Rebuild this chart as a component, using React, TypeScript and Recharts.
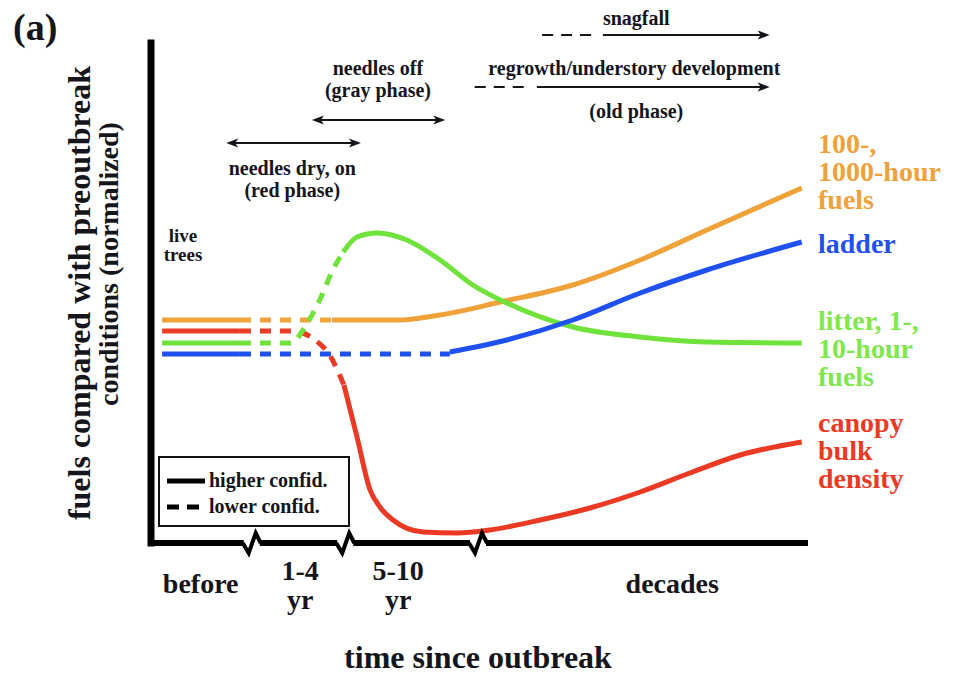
import React from "react";
import { LineChart, Line, XAxis, YAxis, ReferenceDot, ReferenceLine } from "recharts";

const FONT = "'Liberation Serif', 'Times New Roman', serif";
const INK = "#15151c";
const ORANGE = "#f0a23a";
const RED = "#ea3a24";
const GREEN = "#6fe23c";
const BLUE = "#1f50f0";
const GREEN_TEXT = "#7ee84c";

// x: 0 = start of plot, 100 = right end ("decades"); y: normalized fuel amount 0-100
const orangeBefore = [[1.7, 44.6], [13.6, 44.6]];
const orangeUncertain = [[13.6, 44.6], [27.7, 44.6]];
const orangeAfter = [[27.7, 44.6], [38.1, 44.6], [44.2, 45.6], [53.4, 48.2], [64.5, 51.6], [74.8, 56.6], [85, 62.6], [99.5, 71]];

const redBefore = [[1.7, 42.4], [13.6, 42.4]];
const redUncertain = [[13.6, 42.4], [21.6, 42.4], [25.1, 40.6], [27.4, 37.4], [29.5, 31.6]];
const redAfter = [[29.5, 31.6], [31.5, 21.2], [33.5, 10.6], [35, 7.2], [37, 4.6], [41.6, 2.2], [46.8, 2], [51.8, 2.6], [59.5, 4.6], [67.1, 7], [74.8, 10.2], [82.4, 14], [90.1, 17.6], [99.5, 20.2]];

const greenBefore = [[1.7, 40], [13.6, 40]];
const greenUncertain = [[13.6, 40], [21.3, 40], [23.9, 44], [25.8, 48.6], [27.8, 54.6], [29.4, 58.2]];
const greenAfter = [[29.4, 58.2], [31.5, 61.2], [34.6, 62], [39.1, 60.6], [44.2, 56.6], [49.2, 51.6], [54.4, 48], [64.5, 43.2], [74.8, 41.2], [85, 40.2], [99.5, 40]];

const blueBefore = [[1.7, 37.8], [13.6, 37.8]];
const blueUncertain = [[13.6, 37.8], [45.7, 37.8]];
const blueAfter = [[45.7, 38.2], [54.4, 40.6], [64.5, 44.6], [74.8, 50], [85, 54.6], [99.5, 60.2]];

const tickValues = [7.6, 22.8, 37.8, 79.7];
const tickLabels = [["before"], ["1-4", "yr"], ["5-10", "yr"], ["decades"]];
const axisBreaks = [15.4, 29.7, 50];

// phase spans along the time axis (dashed part = uncertain start)
const phaseSpans = [
  { dashedFrom: null, from: 11.5, to: 32.1, y: 80, both: true },
  { dashedFrom: null, from: 24.6, to: 45, y: 84.6, both: true },
  { dashedFrom: 49.5, from: 59, to: 94.6, y: 91.2, both: false },
  { dashedFrom: 59.8, from: 69.1, to: 94.6, y: 101.6, both: false },
];

const phaseNotes = [
  { x: 21.6, y: 73.6, lines: ["needles dry, on", "(red phase)"] },
  { x: 34.7, y: 93.6, lines: ["needles off", "(gray phase)"] },
  { x: 73.9, y: 93.6, lines: ["regrowth/understory development"] },
  { x: 74.2, y: 103.6, lines: ["snagfall"] },
  { x: 74.2, y: 85, lines: ["(old phase)"] },
];

const seriesLabels = [
  { y: 78, color: ORANGE, lines: ["100-,", "1000-hour", "fuels"] },
  { y: 58, color: BLUE, lines: ["ladder"] },
  { y: 42.6, color: GREEN_TEXT, lines: ["litter, 1-,", "10-hour", "fuels"] },
  { y: 22.2, color: RED, lines: ["canopy", "bulk", "density"] },
];

const pts = (a: number[][]) => a.map(([x, y]) => ({ x, y }));

const segments = [
  { c: ORANGE, parts: [orangeBefore, orangeUncertain, orangeAfter] },
  { c: RED, parts: [redBefore, redUncertain, redAfter] },
  { c: GREEN, parts: [greenBefore, greenUncertain, greenAfter] },
  { c: BLUE, parts: [blueBefore, blueUncertain, blueAfter] },
];

const bold = { fontFamily: FONT, fontWeight: 700 as const };

function TimeTick(p: any) {
  const i = tickValues.indexOf(p.payload.value);
  const lines = tickLabels[i] ?? [];
  const y0 = lines.length > 1 ? 37 : 50;
  return (
    <text x={p.x} y={p.y + y0} textAnchor="middle" fontSize={28} fill={INK} {...bold}>
      {lines.map((l, k) => (
        <tspan key={k} x={p.x} dy={k === 0 ? 0 : 29}>{l}</tspan>
      ))}
    </text>
  );
}

function arrowShape(both: boolean, dashed: boolean) {
  return (p: any) => {
    const { x1, y1, x2, y2 } = p;
    if (dashed) {
      return <line x1={x1} y1={y1} x2={x2} y2={y2} stroke={INK} strokeWidth={2} strokeDasharray="11 8" />;
    }
    const h = 12;
    return (
      <g>
        <line x1={both ? x1 + 4 : x1} y1={y1} x2={x2 - 4} y2={y2} stroke={INK} strokeWidth={2} />
        <polygon points={`${x2},${y2} ${x2 - h},${y2 - 4.5} ${x2 - h + 3},${y2} ${x2 - h},${y2 + 4.5}`} fill={INK} />
        {both && (
          <polygon points={`${x1},${y1} ${x1 + h},${y1 - 4.5} ${x1 + h - 3},${y1} ${x1 + h},${y1 + 4.5}`} fill={INK} />
        )}
      </g>
    );
  };
}

export default function App() {
  return (
    <div style={{ position: "absolute", left: 0, top: 0, width: 960, height: 676, background: "#fff" }}>
      <LineChart width={960} height={676} margin={{ top: 43, right: 155, bottom: 0, left: 0 }}>
        <XAxis
          type="number"
          dataKey="x"
          domain={[0, 100]}
          ticks={tickValues}
          interval={0}
          tick={<TimeTick />}
          tickLine={false}
          tickSize={0}
          tickMargin={0}
          height={133}
          axisLine={{ stroke: "#000", strokeWidth: 6, strokeLinecap: "square" }}
          label={{
            content: (props: any) => {
              const vb = props.viewBox || {};
              return (
                <text x={vb.x + vb.width / 2} y={vb.y + 125} textAnchor="middle" fontSize={32} fill={INK} {...bold}>
                  time since outbreak
                </text>
              );
            },
          }}
        />
        <YAxis
          type="number"
          dataKey="y"
          domain={[0, 100]}
          width={151}
          tick={false}
          tickLine={false}
          axisLine={{ stroke: "#000", strokeWidth: 7, strokeLinecap: "square" }}
          label={{
            content: () => (
              <g>
                <text x={13} y={40} fontSize={38} fill={INK} {...bold}>(a)</text>
                <text x={90} y={293} transform="rotate(-90 90 293)" textAnchor="middle" fontSize={32} fill={INK} {...bold}>
                  fuels compared with preoutbreak
                </text>
                <text x={118} y={264} transform="rotate(-90 118 264)" textAnchor="middle" fontSize={28} fill={INK} {...bold}>
                  conditions (normalized)
                </text>
              </g>
            ),
          }}
        />

        {segments.map((s, si) =>
          s.parts.map((part, pi) => (
            <Line
              key={`${si}-${pi}`}
              data={pts(part)}
              dataKey="y"
              type="monotone"
              stroke={s.c}
              strokeWidth={5}
              strokeDasharray={pi === 1 ? "11 9" : undefined}
              dot={false}
              activeDot={false}
              legendType="none"
              isAnimationActive={false}
            />
          ))
        )}

        {axisBreaks.map((b) => (
          <ReferenceDot
            key={`b${b}`}
            x={b}
            y={0}
            ifOverflow="visible"
            zIndex={1500}
            shape={(p: any) => (
              <g>
                <rect x={p.cx - 8} y={p.cy - 4} width={16} height={8} fill="#fff" />
                <path
                  d={`M${p.cx - 9},${p.cy} L${p.cx - 3},${p.cy + 10} L${p.cx + 4},${p.cy - 10} L${p.cx + 9},${p.cy}`}
                  fill="none"
                  stroke="#000"
                  strokeWidth={4}
                  strokeLinejoin="miter"
                />
              </g>
            )}
          />
        ))}

        {phaseSpans.map((s, i) => (
          <React.Fragment key={`s${i}`}>
            {s.dashedFrom != null && (
              <ReferenceLine
                segment={[{ x: s.dashedFrom, y: s.y }, { x: s.from - 1, y: s.y }]}
                ifOverflow="visible"
                shape={arrowShape(false, true)}
              />
            )}
            <ReferenceLine
              segment={[{ x: s.from, y: s.y }, { x: s.to, y: s.y }]}
              ifOverflow="visible"
              shape={arrowShape(s.both, false)}
            />
          </React.Fragment>
        ))}

        {phaseNotes.map((n, i) => (
          <ReferenceDot
            key={`n${i}`}
            x={n.x}
            y={n.y}
            ifOverflow="visible"
            shape={(p: any) => (
              <text x={p.cx} y={p.cy} textAnchor="middle" fontSize={20} fill={INK} {...bold}>
                {n.lines.map((l, k) => (
                  <tspan key={k} x={p.cx} dy={k === 0 ? 0 : 22}>{l}</tspan>
                ))}
              </text>
            )}
          />
        ))}

        <ReferenceDot
          x={4.9}
          y={60.2}
          ifOverflow="visible"
          shape={(p: any) => (
            <text x={p.cx} y={p.cy} textAnchor="middle" fontSize={19} fill={INK} {...bold}>
              <tspan x={p.cx} dy={0}>live</tspan>
              <tspan x={p.cx} dy={19}>trees</tspan>
            </text>
          )}
        />

        {seriesLabels.map((s, i) => (
          <ReferenceDot
            key={`l${i}`}
            x={100}
            y={s.y}
            ifOverflow="visible"
            shape={(p: any) => (
              <text x={p.cx + 13} y={p.cy} fontSize={28} fill={s.color} {...bold}>
                {s.lines.map((l, k) => (
                  <tspan key={k} x={p.cx + 13} dy={k === 0 ? 0 : 28}>{l}</tspan>
                ))}
              </text>
            )}
          />
        ))}
      </LineChart>

      <div
        style={{
          position: "absolute",
          left: 158,
          top: 456,
          width: 188,
          height: 67,
          border: "2px solid #111",
          background: "#fff",
          fontFamily: FONT,
          fontWeight: 700,
          fontSize: 20,
          color: INK,
        }}
      >
        <div style={{ position: "absolute", left: 7, top: 11, display: "flex", alignItems: "center", whiteSpace: "nowrap" }}>
          <svg width={40} height={10}>
            <line x1={0} y1={5} x2={38} y2={5} stroke="#000" strokeWidth={5} />
          </svg>
          <span style={{ marginLeft: 2 }}>higher confid.</span>
        </div>
        <div style={{ position: "absolute", left: 7, top: 37, display: "flex", alignItems: "center", whiteSpace: "nowrap" }}>
          <svg width={40} height={10}>
            <line x1={0} y1={5} x2={36} y2={5} stroke="#000" strokeWidth={5} strokeDasharray="12 8" />
          </svg>
          <span style={{ marginLeft: 2 }}>lower confid.</span>
        </div>
      </div>
    </div>
  );
}
